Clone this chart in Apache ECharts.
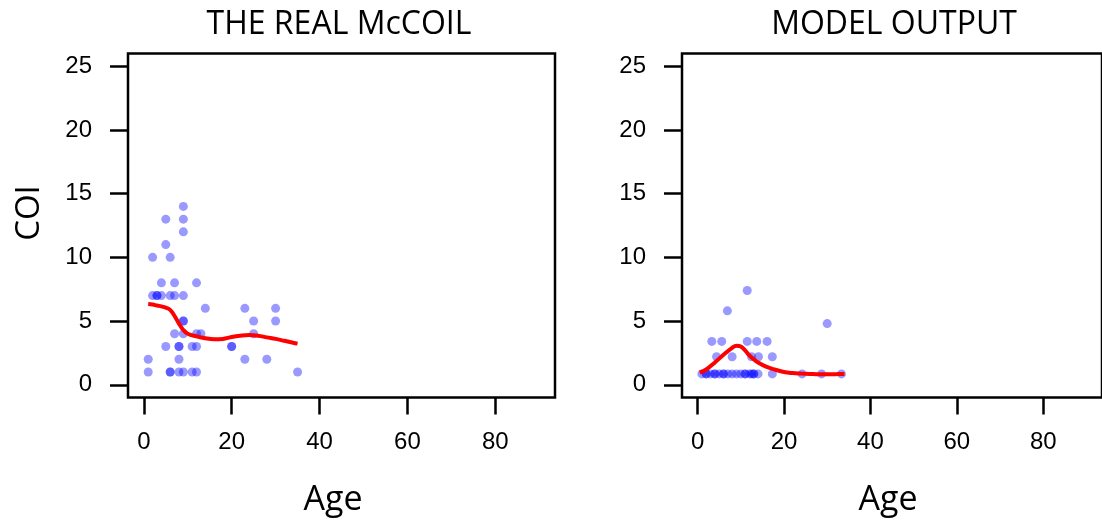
<!DOCTYPE html>
<html>
<head>
<meta charset="utf-8">
<script src="https://cdn.jsdelivr.net/npm/echarts@6/dist/echarts.min.js"></script>
<style>
  html, body { margin: 0; padding: 0; background: #ffffff; }
  #chart { width: 1102px; height: 522px; }
</style>
</head>
<body>
<div id="chart"></div>
<script>
// Axis ticks
const ageTicks = [0, 20, 40, 60, 80];
const coiTicks = [0, 5, 10, 15, 20, 25];

// Panel titles
const panelTitles = ['THE REAL McCOIL', 'MODEL OUTPUT'];

// Observed COI by age (THE REAL McCOIL)
const realAge = [9, 5, 9, 9, 5, 2, 6, 4, 7, 12,
                 2, 3, 3, 4, 6, 7, 9,
                 14, 23, 30,
                 9, 9, 25, 30,
                 7, 9, 12, 13, 25,
                 5, 8, 8, 11, 12, 20, 20,
                 1, 8, 23, 28,
                 1, 6, 6, 8, 9, 11, 12, 35];
const realCOI = [14, 13, 13, 12, 11, 10, 10, 8, 8, 8,
                 7, 7, 7, 7, 7, 7, 7,
                 6, 6, 6,
                 5, 5, 5, 5,
                 4, 4, 4, 4, 4,
                 3, 3, 3, 3, 3, 3, 3,
                 2, 2, 2, 2,
                 1, 1, 1, 1, 1, 1, 1, 1];

// Smoothed trend for the real data
const realTrendAge = [1, 2, 3, 4, 5, 6, 7, 8, 9, 10, 12, 14, 16, 18, 20, 22, 24, 26, 28, 30, 32, 34, 35];
const realTrendCOI = [6.34, 6.3, 6.22, 6.15, 6.05, 5.88, 5.4, 4.8, 4.3, 4.0, 3.8, 3.65, 3.57, 3.6, 3.75, 3.85, 3.9, 3.85, 3.72, 3.6, 3.45, 3.3, 3.23];

// Model COI by age (MODEL OUTPUT)
const modelAge = [11.5, 6.9, 30,
                  3.3, 5.6, 11.5, 13.7, 16.1,
                  4.4, 8, 12.5, 14.1, 17.3,
                  1, 2, 2, 3, 4, 4, 5, 6, 6, 7, 8, 9, 10, 11, 11, 12, 12.5, 13, 13, 14, 17.3, 24.2, 28.7, 33.3];
const modelCOI = [7.4, 5.8, 4.8,
                  3.4, 3.4, 3.4, 3.4, 3.4,
                  2.2, 2.2, 2.2, 2.2, 2.2,
                  0.85, 0.85, 0.85, 0.85, 0.85, 0.85, 0.85, 0.85, 0.85, 0.85, 0.85, 0.85, 0.85, 0.85, 0.85,
                  0.85, 0.85, 0.85, 0.85, 0.85, 0.85, 0.85, 0.85, 0.85];

// Smoothed trend for the model output
const modelTrendAge = [0.5, 2, 4, 6, 8, 9, 10, 11, 12, 13, 14, 16, 18, 20, 22, 24, 26, 28, 30, 32, 34];
const modelTrendCOI = [0.95, 1.2, 1.75, 2.35, 2.9, 3.07, 3.0, 2.7, 2.3, 2.0, 1.75, 1.4, 1.18, 1.0, 0.92, 0.88, 0.85, 0.82, 0.82, 0.83, 0.85];

const zip = (xs, ys) => xs.map((x, i) => [x, ys[i]]);

const digitFont = '"Liberation Sans", Arial, sans-serif';
const textFont = '"Open Sans", sans-serif';

function xAxisFor(idx) {
  return {
    gridIndex: idx, type: 'value', min: -3.6, max: 93.6,
    axisLine: { show: false, onZero: false },
    splitLine: { show: false },
    axisTick: { show: true, customValues: ageTicks, length: 17, inside: false,
                lineStyle: { color: '#000', width: 2.5 } },
    axisLabel: { show: true, customValues: ageTicks, margin: 33,
                 fontFamily: digitFont, fontSize: 24, color: '#000' }
  };
}
function yAxisFor(idx) {
  return {
    gridIndex: idx, type: 'value', min: -1, max: 26,
    axisLine: { show: false, onZero: false },
    splitLine: { show: false },
    axisTick: { show: true, customValues: coiTicks, length: 18, inside: false,
                lineStyle: { color: '#000', width: 2.5 } },
    axisLabel: { show: true, customValues: coiTicks, margin: 36,
                 fontFamily: digitFont, fontSize: 24, color: '#000' }
  };
}

const pointStyle = { color: 'rgba(0,0,255,0.5)' };
const trendStyle = { color: '#ff0000', width: 4 };

const chart = echarts.init(document.getElementById('chart'), null, { renderer: 'canvas' });
chart.setOption({
  animation: false,
  backgroundColor: '#ffffff',
  grid: [
    { left: 128, top: 53.5, width: 427, height: 344, show: true,
      borderColor: '#000', borderWidth: 2.5, backgroundColor: 'transparent' },
    { left: 682, top: 53.5, width: 425, height: 344, show: true,
      borderColor: '#000', borderWidth: 2.5, backgroundColor: 'transparent' }
  ],
  xAxis: [xAxisFor(0), xAxisFor(1)],
  yAxis: [yAxisFor(0), yAxisFor(1)],
  series: [
    { type: 'scatter', xAxisIndex: 0, yAxisIndex: 0, symbolSize: 9,
      itemStyle: pointStyle, data: zip(realAge, realCOI), z: 2 },
    { type: 'line', xAxisIndex: 0, yAxisIndex: 0, smooth: 0.4, showSymbol: false,
      lineStyle: trendStyle, data: zip(realTrendAge, realTrendCOI), z: 3 },
    { type: 'scatter', xAxisIndex: 1, yAxisIndex: 1, symbolSize: 9,
      itemStyle: pointStyle, data: zip(modelAge, modelCOI), z: 2 },
    { type: 'line', xAxisIndex: 1, yAxisIndex: 1, smooth: 0.4, showSymbol: false,
      lineStyle: trendStyle, data: zip(modelTrendAge, modelTrendCOI), z: 3 }
  ],
  graphic: [
    { type: 'text', x: 339, y: 25, style: { text: panelTitles[0], font: '32px ' + textFont,
      fill: '#000', align: 'center', verticalAlign: 'middle' } },
    { type: 'text', x: 894, y: 25, style: { text: panelTitles[1], font: '32px ' + textFont,
      fill: '#000', align: 'center', verticalAlign: 'middle' } },
    { type: 'text', x: 333, y: 500, style: { text: 'Age', font: '34px ' + textFont,
      fill: '#000', align: 'center', verticalAlign: 'middle' } },
    { type: 'text', x: 888, y: 500, style: { text: 'Age', font: '34px ' + textFont,
      fill: '#000', align: 'center', verticalAlign: 'middle' } },
    { type: 'text', x: 30, y: 213, rotation: Math.PI / 2, style: { text: 'COI', font: '33px ' + textFont,
      fill: '#000', align: 'center', verticalAlign: 'middle' } }
  ]
});
</script>
</body>
</html>
